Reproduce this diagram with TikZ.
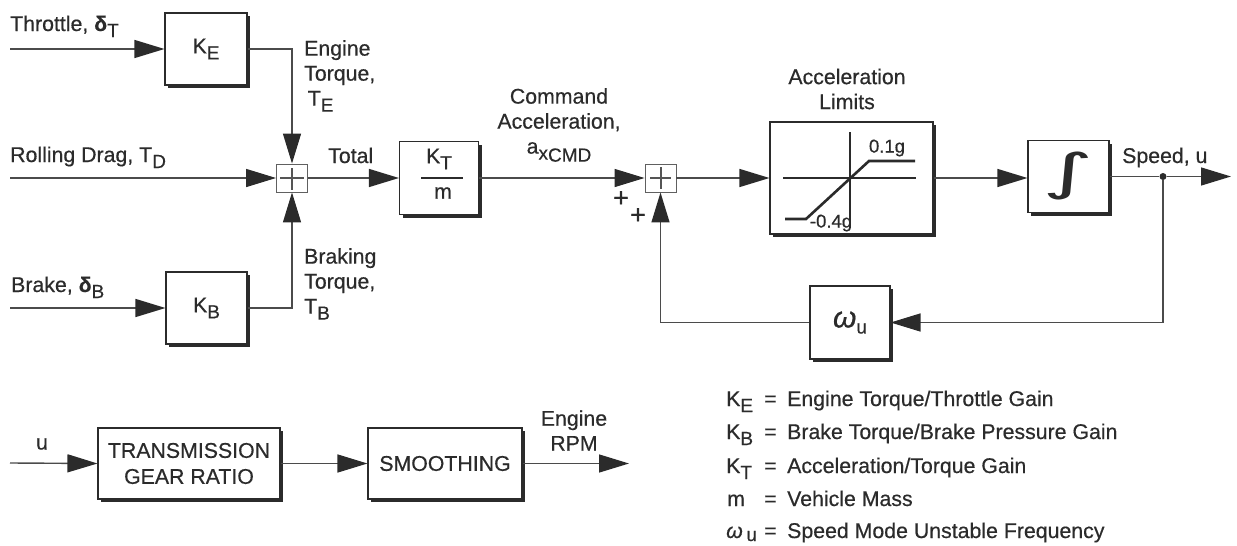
\documentclass[tikz,border=0pt]{standalone}
\usepackage{fontspec}
\setmainfont{Liberation Sans}[RawFeature={embolden=0.5}]
\newfontfamily\intfont{DejaVu Sans}
\usetikzlibrary{arrows.meta,shadows}
\definecolor{ink}{HTML}{2B2B2B}
\newcommand{\lowsub}[1]{\raisebox{-6pt}{\fontsize{19}{19}\selectfont #1}}
\newcommand{\dlt}{\textbf{δ}}
\tikzset{
  x=1pt,y=-1pt,
  every node/.style={text=ink,inner sep=0pt,font=\fontsize{21.3}{25}\selectfont},
  blk/.style={draw=ink,line width=1.1pt,fill=white,align=center,
    drop shadow={shadow xshift=3pt,shadow yshift=-3pt,fill=ink,opacity=1}},
  sumbox/.style={draw=ink!75,line width=.9pt,fill=white,minimum width=31pt,minimum height=28pt},
  sig/.style={draw=ink!85,line width=1.4pt},
  arr/.style={sig,-{Triangle[length=30pt,width=18pt,color=ink]}},
  lbl/.style={anchor=north west,align=left},
  clbl/.style={anchor=center,align=center},
  cross/.style={draw=ink!80,line width=1.1pt},
  plotline/.style={draw=ink,line width=1.1pt},
  sat/.style={draw=ink,line width=2.6pt},
  smalltxt/.style={font=\fontsize{18.5}{20}\selectfont},
  plustxt/.style={font=\fontsize{27}{27}\selectfont}
}
\begin{document}
\begin{tikzpicture}
\useasboundingbox (0,0) rectangle (1237,546);
% blocks
\node[blk,minimum width=82pt,minimum height=72pt] (ke) at (206,49) {K\lowsub{E}};
\node[blk,minimum width=81pt,minimum height=72pt] (kb) at (206.5,308) {K\lowsub{B}};
\node[sumbox] (s1) at (292,178) {};
\node[blk,minimum width=79pt,minimum height=73pt] (kt) at (439,178) {};
\node[sumbox] (s2) at (660.5,178) {};
\node[blk,minimum width=163pt,minimum height=112pt] (lim) at (851.5,178) {};
\node[blk,minimum width=81pt,minimum height=72pt] (int) at (1068.5,176.5) {};
\node[blk,minimum width=80pt,minimum height=73pt] (om) at (850,322.5) {{\fontsize{30}{30}\selectfont\textit{ω}}\lowsub{u}};
\node[blk,minimum width=182pt,minimum height=71pt] (tr) at (189,463.5) {TRANSMISSION\\[1pt]GEAR RATIO};
\node[blk,minimum width=154pt,minimum height=71pt] (sm) at (445,463.5) {SMOOTHING};
% block interiors
\node (ktnum) at (439,159) {K\lowsub{T}};
\node (ktden) at (443,193) {m};
\draw[line width=1.3pt,draw=ink] (421,178) -- (463,178);
\node (intsym) at (1068,176) {\scalebox{1.6}[0.8]{\intfont\fontsize{62}{62}\selectfont ∫}};
% limiter
\draw[plotline] (783,178) -- (916,178);
\draw[plotline] (850,132) -- (850,228);
\draw[sat] (785,219) -- (806,219) -- (869,161) -- (915,161);
\node[smalltxt] (hi) at (887,148) {0.1g};
\node[smalltxt] (lo) at (831,223) {-0.4g};
% free ends and junction
\coordinate (thr) at (10,49);
\coordinate (rol) at (10,178);
\coordinate (brk) at (10,308);
\coordinate (uin) at (10,463);
\coordinate (uout) at (1231,176.5);
\coordinate (rpm) at (629,463.5);
\node[circle,fill=ink,minimum size=7pt] (dot) at (1163,176.5) {};
% sum crosses
\draw[cross] (280,178) -- (304,178);
\draw[cross] (292,168) -- (292,190);
\draw[cross] (650,178) -- (671,178);
\draw[cross] (661,167) -- (661,189);
% connectors
\draw[arr] (thr) -- (ke.west);
\draw[arr] (brk) -- (kb.west);
\draw[arr] (rol) -- (s1.west);
\draw[arr] (ke.east) -| (s1.north);
\draw[arr] (kb.east) -| (s1.south);
\draw[arr] (s1.east) -- (kt.west);
\draw[arr] (kt.east) -- (s2.west);
\draw[arr] (s2.east) -- (lim.west);
\draw[arr] (lim.east) -- (int.west |- lim.east);
\draw[sig] (int.east) -- (dot);
\draw[arr] (dot) -- (uout);
\draw[arr] (dot) |- (om.east);
\draw[arr] (om.west) -| (s2.south);
\draw[arr] (uin) -- (tr.west);
\draw[arr] (tr.east) -- (sm.west);
\draw[arr] (sm.east) -- (rpm);
% labels
\node[anchor=base west] (l1) at (10,31) {Throttle, \dlt\lowsub{T}};
\node[anchor=base west] (l2) at (10,162) {Rolling Drag, T\lowsub{D}};
\node[anchor=base west] (l3) at (11,292) {Brake, \dlt\lowsub{B}};
\node[lbl] (l4) at (304,40) {Engine\\Torque,\\\,T\lowsub{E}};
\node[anchor=base west] (l5) at (328,163) {Total};
\node[lbl] (l6) at (304,248) {Braking\\Torque,\\T\lowsub{B}};
\node[clbl] (l7) at (559,125) {Command\\Acceleration,\\a\lowsub{x}\lowsub{\raisebox{-2pt}{CMD}}};
\node[clbl] (l8) at (847,89) {Acceleration\\Limits};
\node[anchor=base west] (l9) at (1122,163) {Speed, u};
\node[plustxt] (p1) at (621,199) {+};
\node[plustxt] (p2) at (638,216) {+};
\node (l10) at (42,444) {u};
\node[clbl] (l11) at (574,430.5) {Engine\\RPM};
% legend
\node[anchor=base west] (a1) at (726,406) {K\lowsub{E}};
\node[anchor=base west] (b1) at (764,406) {=};
\node[anchor=base west] (c1) at (787,406) {Engine Torque/Throttle Gain};
\node[anchor=base west] (a2) at (726,439) {K\lowsub{B}};
\node[anchor=base west] (b2) at (764,439) {=};
\node[anchor=base west] (c2) at (787,439) {Brake Torque/Brake Pressure Gain};
\node[anchor=base west] (a3) at (726,473) {K\lowsub{T}};
\node[anchor=base west] (b3) at (764,473) {=};
\node[anchor=base west] (c3) at (787,473) {Acceleration/Torque Gain};
\node[anchor=base west] (a4) at (727,506) {m};
\node[anchor=base west] (b4) at (764,506) {=};
\node[anchor=base west] (c4) at (787,506) {Vehicle Mass};
\node[anchor=base west] (a5) at (726,538) {\textit{ω}\,\raisebox{-3pt}{\fontsize{19}{19}\selectfont u}};
\node[anchor=base west] (b5) at (764,538) {=};
\node[anchor=base west] (c5) at (787,538) {Speed Mode Unstable Frequency};
\end{tikzpicture}
\end{document}
